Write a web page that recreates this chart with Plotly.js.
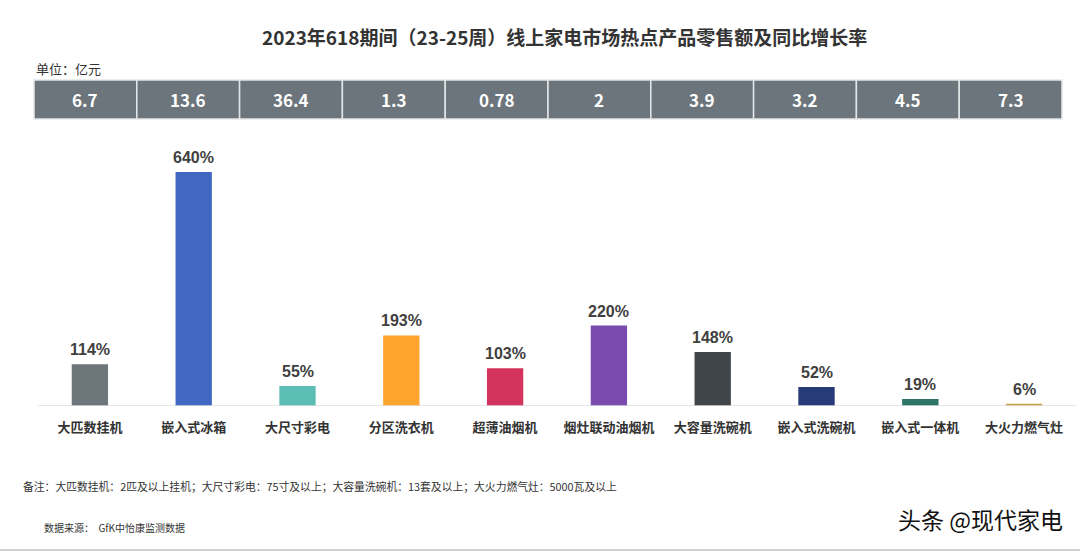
<!DOCTYPE html>
<html><head><meta charset="utf-8">
<script src="https://cdn.plot.ly/plotly-3.0.1.min.js"></script>
<style>html,body{margin:0;padding:0;background:#fff;}#chart{width:1080px;height:552px;}</style>
</head><body><div id="chart"></div>
<script>
const categories = ["大匹数挂机","嵌入式冰箱","大尺寸彩电","分区洗衣机","超薄油烟机","烟灶联动油烟机","大容量洗碗机","嵌入式洗碗机","嵌入式一体机","大火力燃气灶"];
const growthPct = [114, 640, 55, 193, 103, 220, 148, 52, 19, 6];
const salesYi = ["6.7","13.6","36.4","1.3","0.78","2","3.9","3.2","4.5","7.3"];
const barColors = ["#6d767b","#4267c2","#5bbdb4","#ffa42f","#d3335c","#7c4bb0","#3f4548","#263b78","#2b7467","#c9a24d"];

const W = 1080, H = 552;
const L = 38, R = 4, T = 140, B = 146;
const PW = W - L - R, PH = H - T - B;
const px = x => (x - L) / PW;
const py = y => (H - B - y) / PH;
const FONT = "Noto Sans CJK SC, Noto Sans, sans-serif";

const shapes = [];
const annotations = [];
// table of sales values
const tabL = 34, tabR = 1062, tabT = 80, tabB = 119;
const cw = (tabR - tabL) / salesYi.length;
salesYi.forEach((v, i) => {
  const x0 = tabL + i * cw, x1 = x0 + cw;
  shapes.push({type:"rect", xref:"paper", yref:"paper", x0:px(x0), x1:px(x1), y0:py(tabB), y1:py(tabT),
    fillcolor:"#6c757c", line:{color:"#e3e6e8", width:1.5}, layer:"above"});
  annotations.push({xref:"paper", yref:"paper", x:px((x0+x1)/2), y:py((tabT+tabB)/2), text:v, showarrow:false,
    xanchor:"center", yanchor:"middle", font:{family:FONT, size:17, color:"#ffffff", weight:"bold"}});
});
// bar value labels
categories.forEach((c, i) => {
  annotations.push({xref:"x", yref:"y", x:c, y:growthPct[i], text:growthPct[i] + "%", showarrow:false,
    xanchor:"center", yanchor:"bottom", yshift:4,
    font:{family:"Liberation Sans, Arial, sans-serif", size:16, color:"#404040", weight:"bold"}});
});
// baseline
shapes.push({type:"line", xref:"paper", yref:"y", x0:0, x1:1, y0:0, y1:0, line:{color:"#dcdcdc", width:1.5}});
// bottom frame line
shapes.push({type:"line", xref:"paper", yref:"paper", x0:px(0), x1:px(1080), y0:py(550), y1:py(550), line:{color:"#cfcfcf", width:2}});

annotations.push({xref:"paper", yref:"paper", x:px(564), y:py(36), text:"2023年618期间（23-25周）线上家电市场热点产品零售额及同比增长率",
  showarrow:false, xanchor:"center", yanchor:"middle", font:{family:FONT, size:19, color:"#333333", weight:"bold"}});
annotations.push({xref:"paper", yref:"paper", x:px(34), y:py(69), text:"单位：亿元", showarrow:false,
  xanchor:"left", yanchor:"middle", font:{family:FONT, size:13, color:"#333333"}});
annotations.push({xref:"paper", yref:"paper", x:px(21), y:py(486), text:"备注：大匹数挂机：2匹及以上挂机；大尺寸彩电：75寸及以上；大容量洗碗机：13套及以上；大火力燃气灶：5000瓦及以上",
  showarrow:false, xanchor:"left", yanchor:"middle", font:{family:FONT, size:10.8, color:"#333333"}});
annotations.push({xref:"paper", yref:"paper", x:px(42), y:py(527), text:"数据来源：  GfK中怡康监测数据",
  showarrow:false, xanchor:"left", yanchor:"middle", font:{family:FONT, size:10, color:"#333333"}});
annotations.push({xref:"paper", yref:"paper", x:px(1065), y:py(519), text:"头条 @现代家电",
  showarrow:false, xanchor:"right", yanchor:"middle",
  font:{family:FONT, size:23, color:"#111111", shadow:"1px 1px 1px #ffffff, -1px -1px 1px #ffffff"}});

const trace = {
  type:"bar", x:categories, y:growthPct,
  marker:{color:barColors, line:{width:0}},
  width:0.35,
  hoverinfo:"x+y"
};

const layout = {
  width:W, height:H, margin:{l:L, r:R, t:T, b:B},
  paper_bgcolor:"#ffffff", plot_bgcolor:"#ffffff",
  showlegend:false,
  xaxis:{type:"category", range:[-0.5, 9.5], showgrid:false, zeroline:false, showline:false, ticks:"",
    tickfont:{family:FONT, size:13, color:"#333333", weight:"bold"}, ticklabelstandoff:12, fixedrange:true},
  yaxis:{range:[0, 727.6], visible:false, showgrid:false, zeroline:false, fixedrange:true},
  shapes:shapes, annotations:annotations
};
Plotly.newPlot("chart", [trace], layout, {displayModeBar:false, staticPlot:true});
</script></body></html>
